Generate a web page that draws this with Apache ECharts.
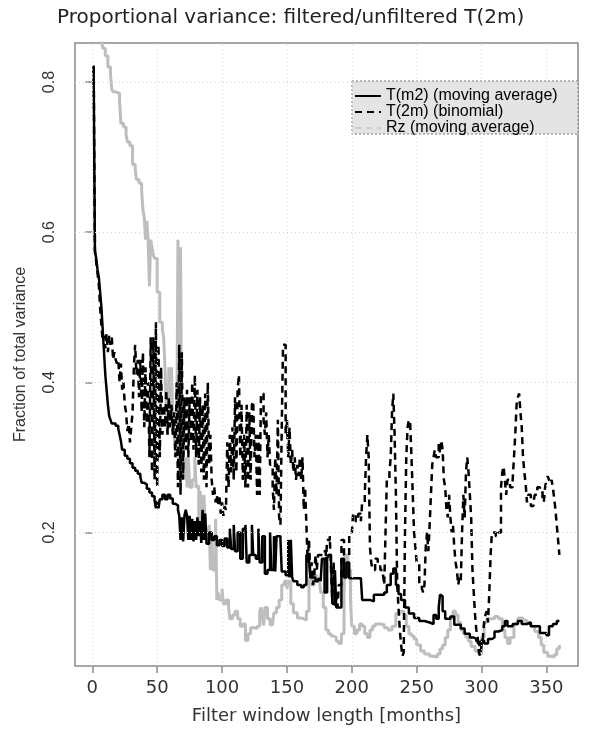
<!DOCTYPE html>
<html><head><meta charset="utf-8">
<script src="https://cdn.jsdelivr.net/npm/echarts@6/dist/echarts.min.js"></script>
<style>html,body{margin:0;padding:0;background:#fff}#c{width:597px;height:730px}</style>
</head><body><div id="c"></div>
<script>
const titleText = 'Proportional variance: filtered/unfiltered T(2m)';
const xName = 'Filter window length [months]';
const yName = 'Fraction of total variance';
const seriesNames = ['T(m2) (moving average)', 'T(2m) (binomial)', 'Rz (moving average)'];
const xTicks = [0, 50, 100, 150, 200, 250, 300, 350];
const yTicks = [0.2, 0.4, 0.6, 0.8];

// [month, fraction] pairs
const tm2 = [[1,0.822],[2,0.575],[3,0.565],[4,0.55],[5,0.54],[6,0.52],[7,0.50],[8,0.47],[9,0.44],[10,0.41],[11,0.39],[12,0.37],[13,0.355],[14,0.35],[15,0.345],[16,0.345],[18,0.342],[20,0.338],[21,0.33],[22,0.322],[23,0.31],[25,0.302],[27,0.298],[29,0.292],[31,0.286],[33,0.282],[35,0.278],[37,0.274],[38,0.266],[40,0.264],[42,0.258],[44,0.253],[46,0.248],[48,0.242],[49,0.232],[50,0.242],[51,0.232],[52,0.244],[54,0.25],[56,0.244],[58,0.25],[60,0.245],[62,0.238],[64,0.236],[66,0.23],[67,0.222],[68,0.19],[69,0.22],[70,0.188],[71,0.222],[72,0.23],[73,0.222],[74,0.19],[75,0.222],[76,0.19],[77,0.218],[78,0.188],[79,0.215],[80,0.19],[81,0.22],[82,0.195],[83,0.215],[84,0.186],[85,0.23],[86,0.19],[87,0.225],[88,0.185],[90,0.2],[92,0.19],[94,0.195],[96,0.183],[98,0.19],[100,0.182],[102,0.192],[104,0.18],[106,0.205],[107,0.178],[109,0.21],[110,0.175],[112,0.2],[114,0.165],[116,0.205],[118,0.21],[119,0.16],[121,0.17],[123,0.21],[124,0.17],[126,0.165],[128,0.205],[129,0.16],[131,0.195],[133,0.145],[135,0.15],[137,0.2],[138,0.15],[140,0.195],[141,0.148],[142,0.195],[145,0.19],[146,0.148],[149,0.143],[151,0.19],[152,0.14],[153,0.19],[154,0.14],[155,0.135],[158,0.13],[161,0.127],[163,0.13],[165,0.17],[167,0.165],[168,0.14],[170,0.14],[172,0.135],[174,0.138],[176,0.135],[177,0.165],[179,0.12],[181,0.165],[182,0.17],[184,0.16],[185,0.105],[187,0.15],[188,0.1],[190,0.1],[192,0.165],[194,0.14],[196,0.16],[198,0.139],[203,0.139],[207,0.138],[208,0.11],[210,0.11],[214,0.108],[217,0.117],[222,0.117],[225,0.12],[227,0.13],[230,0.145],[232,0.152],[234,0.13],[236,0.118],[238,0.11],[241,0.1],[244,0.092],[248,0.086],[252,0.082],[256,0.08],[260,0.078],[263,0.09],[265,0.085],[267,0.1],[268,0.117],[269,0.115],[270,0.095],[272,0.085],[276,0.088],[279,0.077],[284,0.072],[287,0.065],[291,0.06],[294,0.058],[296,0.055],[298,0.05],[300,0.056],[302,0.052],[305,0.058],[308,0.06],[310,0.068],[313,0.07],[316,0.075],[318,0.082],[320,0.075],[324,0.078],[328,0.082],[331,0.078],[335,0.08],[338,0.075],[342,0.075],[345,0.066],[350,0.063],[352,0.075],[355,0.078],[358,0.082],[360,0.082]];

const t2m = [[1,0.82],[2,0.575],[3,0.56],[4,0.545],[5,0.53],[6,0.5],[7,0.475],[8,0.455],[9,0.462],[10,0.445],[11,0.465],[12,0.44],[13,0.462],[14,0.45],[15,0.46],[16,0.43],[17,0.44],[18,0.43],[19,0.425],[20,0.43],[21,0.4],[22,0.425],[23,0.39],[24,0.4],[25,0.37],[26,0.36],[27,0.335],[28,0.345],[29,0.32],[30,0.34],[31,0.36],[32,0.42],[33,0.45],[34,0.41],[35,0.43],[36,0.38],[37,0.43],[38,0.36],[39,0.44],[40,0.34],[41,0.42],[42,0.345],[43,0.4],[44,0.3],[45,0.46],[46,0.28],[47,0.46],[48,0.27],[49,0.48],[50,0.26],[51,0.45],[52,0.3],[53,0.42],[54,0.33],[55,0.37],[56,0.34],[57,0.39],[58,0.33],[59,0.38],[60,0.34],[61,0.37],[62,0.33],[63,0.36],[64,0.3],[65,0.4],[66,0.26],[67,0.45],[68,0.25],[69,0.44],[70,0.27],[71,0.38],[72,0.31],[73,0.39],[74,0.3],[75,0.38],[76,0.32],[77,0.4],[78,0.31],[79,0.41],[80,0.3],[81,0.39],[82,0.29],[83,0.38],[84,0.28],[85,0.37],[86,0.27],[87,0.385],[88,0.26],[89,0.4],[90,0.29],[91,0.33],[92,0.27],[93,0.25],[94,0.26],[95,0.24],[96,0.25],[97,0.235],[98,0.25],[99,0.225],[100,0.24],[101,0.222],[102,0.235],[103,0.23],[104,0.32],[105,0.26],[106,0.33],[107,0.28],[108,0.34],[109,0.27],[110,0.38],[111,0.28],[112,0.39],[113,0.41],[114,0.3],[115,0.37],[116,0.27],[117,0.33],[118,0.26],[119,0.37],[120,0.26],[121,0.36],[122,0.27],[123,0.37],[124,0.375],[125,0.3],[126,0.33],[127,0.25],[128,0.33],[129,0.25],[130,0.385],[131,0.385],[132,0.35],[133,0.33],[134,0.36],[135,0.3],[136,0.33],[137,0.29],[138,0.29],[139,0.26],[140,0.23],[141,0.3],[142,0.25],[143,0.35],[144,0.22],[145,0.21],[146,0.34],[147,0.45],[148,0.45],[149,0.33],[150,0.35],[151,0.3],[152,0.34],[153,0.29],[154,0.31],[155,0.28],[156,0.3],[157,0.27],[158,0.29],[159,0.275],[160,0.3],[161,0.27],[162,0.3],[163,0.23],[164,0.26],[165,0.21],[166,0.16],[167,0.19],[168,0.14],[169,0.16],[170,0.13],[171,0.14],[172,0.17],[173,0.15],[174,0.17],[176,0.17],[178,0.175],[180,0.16],[181,0.19],[183,0.195],[184,0.15],[185,0.11],[186,0.16],[187,0.1],[188,0.12],[189,0.1],[190,0.13],[192,0.19],[194,0.17],[196,0.17],[198,0.198],[200,0.2],[201,0.225],[203,0.215],[205,0.225],[207,0.215],[208,0.24],[210,0.25],[211,0.3],[212,0.33],[213,0.3],[214,0.18],[215,0.16],[216,0.15],[218,0.165],[220,0.155],[222,0.15],[224,0.145],[225,0.13],[226,0.2],[227,0.27],[229,0.28],[230,0.3],[231,0.36],[232,0.385],[233,0.33],[234,0.25],[235,0.13],[236,0.1],[237,0.07],[238,0.05],[239,0.035],[240,0.04],[241,0.2],[242,0.3],[243,0.34],[244,0.35],[245,0.345],[246,0.3],[247,0.25],[248,0.2],[249,0.18],[250,0.16],[252,0.13],[254,0.125],[255,0.12],[256,0.13],[257,0.18],[258,0.2],[259,0.175],[260,0.21],[261,0.25],[262,0.29],[263,0.3],[264,0.31],[265,0.3],[267,0.32],[268,0.305],[269,0.323],[270,0.31],[271,0.27],[272,0.26],[273,0.23],[274,0.22],[275,0.25],[276,0.22],[277,0.2],[278,0.21],[279,0.18],[280,0.16],[281,0.15],[282,0.13],[283,0.14],[284,0.135],[285,0.2],[286,0.25],[287,0.22],[288,0.28],[289,0.3],[290,0.28],[291,0.25],[292,0.22],[293,0.15],[294,0.12],[295,0.09],[296,0.07],[297,0.06],[298,0.04],[299,0.035],[300,0.05],[301,0.06],[302,0.08],[303,0.09],[304,0.095],[305,0.08],[306,0.12],[307,0.17],[308,0.2],[309,0.2],[311,0.195],[313,0.2],[315,0.26],[316,0.28],[317,0.288],[318,0.27],[319,0.25],[320,0.27],[322,0.26],[324,0.27],[325,0.3],[326,0.33],[327,0.37],[328,0.38],[329,0.385],[330,0.36],[331,0.34],[332,0.3],[333,0.28],[334,0.265],[335,0.24],[336,0.25],[338,0.235],[340,0.24],[341,0.25],[343,0.26],[345,0.255],[347,0.245],[348,0.24],[349,0.26],[350,0.27],[351,0.275],[352,0.27],[353,0.265],[354,0.27],[355,0.26],[356,0.245],[357,0.23],[358,0.21],[359,0.19],[360,0.17]];

const rz = [[1,0.95],[4,0.9],[7,0.86],[8,0.845],[10,0.835],[12,0.82],[14,0.81],[15,0.79],[16,0.787],[18,0.785],[21,0.775],[22,0.745],[24,0.74],[26,0.73],[27,0.72],[29,0.715],[31,0.69],[33,0.685],[34,0.67],[36,0.665],[38,0.655],[39,0.63],[40,0.62],[41,0.59],[42,0.615],[43,0.59],[44,0.528],[45,0.59],[46,0.58],[47,0.57],[48,0.565],[50,0.52],[52,0.48],[54,0.47],[55,0.46],[56,0.42],[57,0.36],[58,0.33],[59,0.42],[60,0.35],[61,0.42],[62,0.35],[63,0.33],[64,0.31],[65,0.3],[66,0.59],[67,0.27],[68,0.58],[69,0.3],[70,0.28],[72,0.3],[73,0.26],[74,0.3],[75,0.26],[77,0.27],[79,0.3],[80,0.26],[81,0.262],[82,0.21],[83,0.255],[84,0.24],[85,0.2],[86,0.25],[87,0.21],[88,0.2],[89,0.19],[90,0.21],[91,0.15],[92,0.2],[93,0.15],[95,0.218],[96,0.11],[97,0.12],[98,0.11],[100,0.125],[101,0.105],[103,0.11],[105,0.1],[106,0.085],[108,0.09],[110,0.095],[112,0.085],[114,0.075],[116,0.078],[118,0.056],[120,0.065],[122,0.073],[125,0.072],[127,0.075],[129,0.095],[130,0.1],[131,0.09],[132,0.076],[133,0.1],[135,0.085],[137,0.077],[139,0.08],[140,0.093],[142,0.1],[144,0.11],[146,0.13],[148,0.135],[150,0.125],[151,0.135],[153,0.105],[155,0.093],[158,0.086],[161,0.085],[163,0.083],[165,0.095],[167,0.14],[169,0.13],[171,0.143],[173,0.135],[175,0.14],[176,0.12],[178,0.1],[180,0.07],[182,0.065],[184,0.062],[186,0.06],[188,0.055],[190,0.052],[192,0.065],[194,0.12],[195,0.17],[197,0.15],[199,0.11],[200,0.075],[202,0.065],[204,0.07],[206,0.078],[208,0.075],[210,0.065],[212,0.06],[214,0.07],[216,0.075],[218,0.078],[222,0.077],[225,0.073],[228,0.07],[231,0.075],[234,0.092],[237,0.095],[240,0.09],[242,0.075],[244,0.065],[246,0.062],[248,0.058],[250,0.05],[253,0.042],[256,0.038],[260,0.035],[263,0.034],[266,0.038],[268,0.045],[270,0.05],[272,0.06],[274,0.07],[276,0.085],[278,0.095],[280,0.09],[282,0.08],[284,0.07],[286,0.065],[288,0.06],[290,0.055],[292,0.048],[295,0.042],[298,0.038],[300,0.06],[302,0.08],[304,0.085],[307,0.085],[310,0.088],[313,0.085],[316,0.07],[318,0.06],[320,0.052],[322,0.06],[325,0.078],[328,0.086],[332,0.083],[335,0.08],[338,0.075],[341,0.068],[344,0.06],[346,0.05],[348,0.04],[351,0.035],[354,0.034],[356,0.037],[358,0.045],[360,0.05]];

const chart = echarts.init(document.getElementById('c'), null, {renderer: 'canvas'});
const frameColor = '#8a8a8a';
const gridColor = '#d6d6d6';
const grayLine = '#bdbdbd';

chart.setOption({
  animation: false,
  backgroundColor: '#fff',
  title: {
    text: titleText, left: 52, top: 3,
    textStyle: {fontFamily: 'DejaVu Sans', fontSize: 20, fontWeight: 'normal', color: '#222'}
  },
  grid: {left: 75, top: 43, width: 503, height: 629, show: true, borderColor: frameColor, borderWidth: 1.5, backgroundColor: 'transparent'},
  graphic: [{
    type: 'rect', z: 3,
    shape: {x: 352, y: 81, width: 226, height: 53},
    style: {fill: '#e4e4e4', stroke: '#7a7a7a', lineWidth: 1, lineDash: [2, 2]}
  }],
  legend: {
    orient: 'vertical', left: 354, top: 88, padding: 0, itemGap: 0,
    itemWidth: 26, itemHeight: 12, selectedMode: false, z: 10,
    itemStyle: {opacity: 0},
    textStyle: {fontFamily: 'Liberation Sans', fontSize: 16, color: '#000', lineHeight: 14},
    data: [
      {name: seriesNames[0]},
      {name: seriesNames[1]},
      {name: seriesNames[2], lineStyle: {type: [6, 5], color: '#cccccc'}}
    ]
  },
  xAxis: {
    type: 'value', min: -13.36, max: 374.36,
    axisLine: {show: false},
    axisTick: {show: true, customValues: xTicks, length: 7, lineStyle: {color: frameColor, width: 1.5}},
    axisLabel: {customValues: xTicks, margin: 13, fontFamily: 'DejaVu Sans', fontSize: 18, color: '#333'},
    splitLine: {show: false},
    name: xName, nameLocation: 'middle', nameGap: 41,
    nameTextStyle: {fontFamily: 'DejaVu Sans', fontSize: 18, color: '#333'}
  },
  yAxis: {
    type: 'value', min: 0.022, max: 0.852,
    axisLine: {show: false},
    axisTick: {show: true, customValues: yTicks, length: 7, lineStyle: {color: frameColor, width: 1.5}},
    axisLabel: {customValues: yTicks, rotate: 90, margin: 17, fontFamily: 'Liberation Sans', fontSize: 16, color: '#333',
      formatter: v => v.toFixed(1)},
    splitLine: {show: false},
    name: yName, nameLocation: 'middle', nameGap: 46,
    nameTextStyle: {fontFamily: 'Liberation Sans', fontSize: 16, color: '#333'}
  },
  series: [
    {
      name: 'grid', type: 'line', data: [], z: 0, silent: true,
      markLine: {
        silent: true, symbol: 'none', label: {show: false}, animation: false,
        lineStyle: {color: gridColor, type: [1, 3], width: 1},
        data: xTicks.map(v => ({xAxis: v})).concat(yTicks.map(v => ({yAxis: v})))
      }
    },
    {
      name: seriesNames[2], type: 'line', step: 'end', data: rz, symbol: 'none', z: 1,
      lineStyle: {color: grayLine, width: 3}, itemStyle: {color: grayLine}
    },
    {
      name: seriesNames[0], type: 'line', step: 'end', data: tm2, symbol: 'none', z: 2,
      lineStyle: {color: '#000', width: 2.5}, itemStyle: {color: '#000'}
    },
    {
      name: seriesNames[1], type: 'line', step: 'end', data: t2m, symbol: 'none', z: 3,
      lineStyle: {color: '#000', width: 2.5, type: [7, 5]}, itemStyle: {color: '#000'}
    }
  ]
});
</script>
</body></html>
